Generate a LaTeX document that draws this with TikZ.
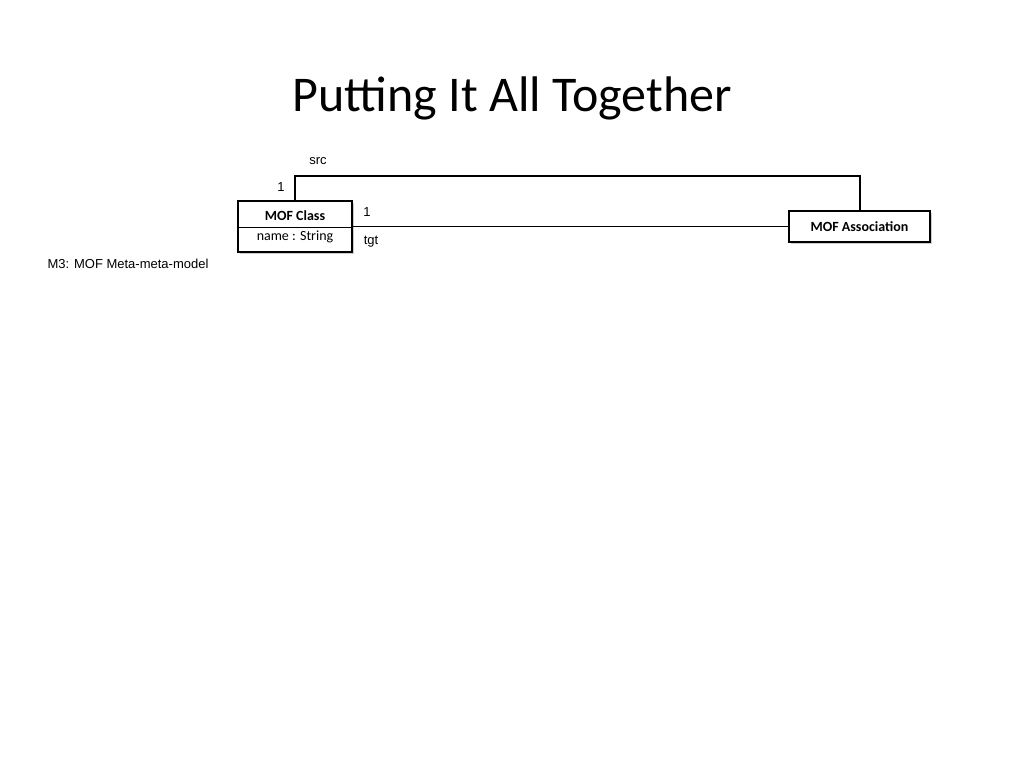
\documentclass[tikz,border=0pt]{standalone}
\usepackage{fontspec}
\setmainfont{Carlito}
\newfontfamily\arial{Liberation Sans}
\usetikzlibrary{shadows}
\begin{document}
\begin{tikzpicture}[x=1pt,y=-1pt,
  box/.style={draw,line width=1.5pt,fill=white,drop shadow={shadow xshift=2pt,shadow yshift=-2pt,opacity=0.4},inner sep=0pt},
  lbl/.style={font=\arial\fontsize{13}{15}\selectfont,inner sep=0pt},
  conn/.style={line width=1.3pt}]
\useasboundingbox (0,0) rectangle (1024,768);
\node[font=\fontsize{50}{60}\selectfont] (title) at (512,98) {Putting It All Together};
\node[box,minimum width=114pt,minimum height=51pt] (cls) at (295,226.5) {};
\draw[line width=1pt] (cls.west |- 0,227) coordinate (sl) -- (cls.east |- 0,227);
\node[font=\bfseries\fontsize{14}{16}\selectfont] (cn) at (295,216) {MOF Class};
\node[font=\fontsize{14}{16}\selectfont] (ca) at (295,237) {name : String};
\node[box,minimum width=141pt,minimum height=31pt,font=\bfseries\fontsize{14}{16}\selectfont] (asc) at (859.5,226.5) {MOF Association};
\coordinate (c1) at (295,176);
\coordinate (c2) at (860,176);
\draw[conn] (cls.north) -- (c1) -- (c2) -- (asc.north -| c2);
\draw[conn] (cls.east) -- (asc.west);
\node[lbl] (src) at (318,161) {src};
\node[lbl] (m1) at (281,187) {1};
\node[lbl] (m2) at (367,212) {1};
\node[lbl] (tgt) at (371,242) {tgt};
\node[lbl] (m3) at (128,264) {M3: MOF Meta-meta-model};
\end{tikzpicture}
\end{document}
